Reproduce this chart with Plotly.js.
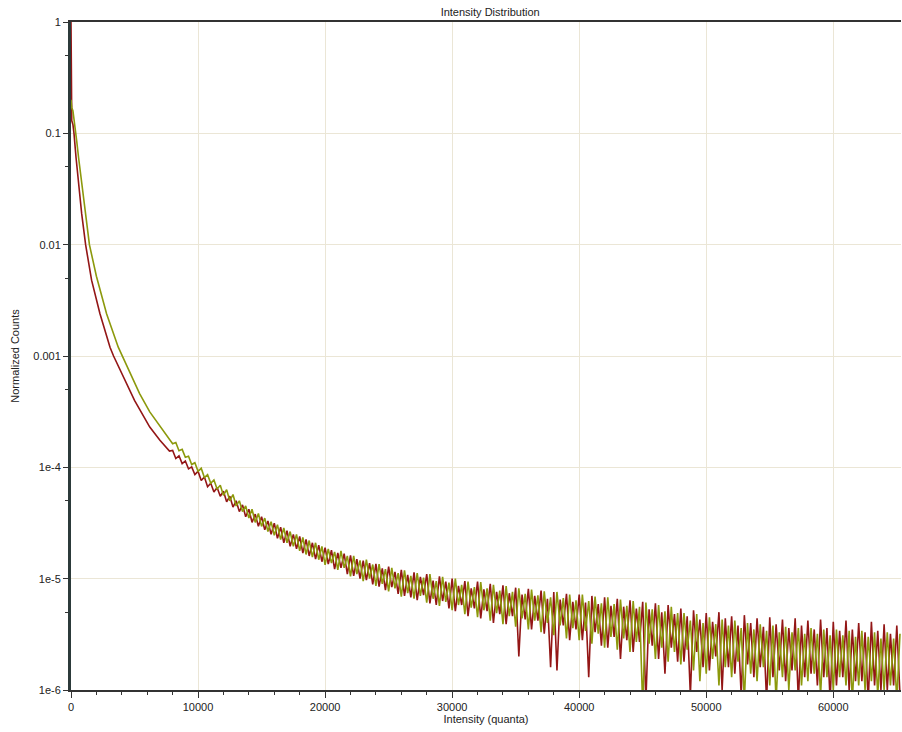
<!DOCTYPE html>
<html>
<head>
<meta charset="utf-8">
<script src="https://cdn.plot.ly/plotly-3.0.1.min.js"></script>
<style>html,body{margin:0;padding:0;background:#fff;}#chart{width:902px;height:732px;}</style>
</head>
<body>
<div id="chart"></div>
<script>
// ---- Data ----
// Smooth head of each distribution (explicit x, y pairs)
const redHeadX = [0, 60, 150, 235, 400, 575, 840, 1150, 1620, 2280, 3070, 3350, 3980, 5000, 6200, 7000, 7750];
const redHeadY = [1.0, 0.13, 0.12, 0.1, 0.06, 0.038, 0.019, 0.01, 0.0048, 0.0024, 0.0012, 0.001, 7e-4, 4e-4, 2.3e-4, 1.75e-4, 1.4e-4];

const oliveHeadX = [0, 60, 150, 300, 450, 600, 850, 1100, 1450, 2000, 2800, 3720, 4050, 4630, 5400, 6200, 7000, 7750];
const oliveHeadY = [0.2, 0.17, 0.16, 0.12, 0.085, 0.06, 0.035, 0.021, 0.01, 0.0052, 0.0024, 0.0012, 0.001, 7e-4, 4.6e-4, 3.15e-4, 2.35e-4, 1.82e-4];

// Noisy tail: histogram bins of width 250 starting at 8000
const tailBinStart = 8000;
const tailBinWidth = 250;

const redTail = [
  1.42e-4, 1.20e-4, 1.27e-4, 1.08e-4, 1.14e-4, 9.7e-5, 1.01e-4, 8.6e-5,
  9.2e-5, 7.6e-5, 8.2e-5, 6.7e-5, 7.2e-5, 6.0e-5, 6.6e-5, 5.5e-5,
  6.1e-5, 4.9e-5, 5.5e-5, 4.4e-5, 5.0e-5, 4.0e-5, 4.6e-5, 3.6e-5,
  4.2e-5, 3.2e-5, 3.8e-5, 2.95e-5, 3.6e-5, 2.75e-5, 3.3e-5, 2.5e-5,
  3.15e-5, 2.3e-5, 2.9e-5, 2.1e-5, 2.7e-5, 1.95e-5, 2.5e-5, 1.85e-5,
  2.4e-5, 1.7e-5, 2.25e-5, 1.6e-5, 2.1e-5, 1.5e-5, 2.0e-5, 1.42e-5,
  1.9e-5, 1.35e-5, 1.8e-5, 1.22e-5, 1.7e-5, 1.25e-5, 1.68e-5, 1.1e-5,
  1.62e-5, 1.06e-5, 1.5e-5, 1.0e-5, 1.45e-5, 9.7e-6, 1.38e-5, 8.9e-6,
  1.36e-5, 8.5e-6, 1.24e-5, 7.9e-6, 1.28e-5, 8.4e-6, 1.15e-5, 7.3e-6,
  1.2e-5, 7.0e-6, 1.08e-5, 6.8e-6, 1.14e-5, 6.4e-6, 1.04e-5, 7.1e-6,
  1.1e-5, 6.0e-6, 9.6e-6, 5.8e-6, 1.05e-5, 6.3e-6, 9.4e-6, 5.4e-6,
  1.0e-5, 5.1e-6, 8.6e-6, 5.8e-6, 9.5e-6, 4.6e-6, 8.2e-6, 5.4e-6,
  9.4e-6, 4.4e-6, 8.0e-6, 5.1e-6, 9.0e-6, 4.0e-6, 7.6e-6, 4.8e-6,
  8.7e-6, 3.9e-6, 7.4e-6, 4.6e-6, 8.3e-6, 2.0e-6, 7.2e-6, 4.3e-6,
  8.1e-6, 3.5e-6, 7.0e-6, 4.2e-6, 7.8e-6, 3.2e-6, 6.6e-6, 1.6e-6,
  7.6e-6, 1.5e-6, 6.5e-6, 3.8e-6, 7.3e-6, 2.8e-6, 6.2e-6, 3.5e-6,
  7.2e-6, 2.8e-6, 6.1e-6, 1.3e-6, 7.0e-6, 3.3e-6, 5.9e-6, 2.5e-6,
  6.8e-6, 2.4e-6, 5.7e-6, 3.0e-6, 6.6e-6, 1.9e-6, 5.6e-6, 2.8e-6,
  6.4e-6, 2.2e-6, 5.4e-6, 2.7e-6, 6.2e-6, 8e-7, 5.3e-6, 2.5e-6,
  6.0e-6, 1.9e-6, 5.0e-6, 1.4e-6, 5.8e-6, 2.4e-6, 4.8e-6, 1.8e-6,
  5.4e-6, 1.8e-6, 4.6e-6, 9e-7, 5.2e-6, 2.2e-6, 4.3e-6, 1.6e-6,
  4.9e-6, 1.5e-6, 4.1e-6, 2.0e-6, 5.0e-6, 1.0e-6, 4.4e-6, 1.6e-6,
  4.6e-6, 1.4e-6, 3.8e-6, 9e-7, 4.7e-6, 1.7e-6, 4.0e-6, 1.3e-6,
  4.4e-6, 1.6e-6, 3.7e-6, 8e-7, 4.5e-6, 1.3e-6, 3.9e-6, 1.5e-6,
  4.3e-6, 1.2e-6, 3.6e-6, 1.5e-6, 4.4e-6, 8e-7, 3.8e-6, 1.3e-6,
  4.2e-6, 1.4e-6, 3.5e-6, 1.1e-6, 4.3e-6, 1.3e-6, 3.6e-6, 8e-7,
  4.1e-6, 1.1e-6, 3.4e-6, 1.3e-6, 4.2e-6, 1.0e-6, 3.5e-6, 1.2e-6,
  4.0e-6, 1.2e-6, 3.3e-6, 8e-7, 4.1e-6, 1.1e-6, 3.4e-6, 1.0e-6,
  3.9e-6, 1.0e-6, 3.2e-6, 1.1e-6, 3.8e-6, 9e-7
];

const oliveTail = [
  1.63e-4, 1.67e-4, 1.41e-4, 1.45e-4, 1.23e-4, 1.26e-4, 1.06e-4, 1.10e-4,
  9.2e-5, 9.8e-5, 8.1e-5, 8.6e-5, 7.2e-5, 7.7e-5, 6.4e-5, 6.9e-5,
  5.6e-5, 6.3e-5, 5.0e-5, 5.7e-5, 4.5e-5, 5.0e-5, 4.0e-5, 4.5e-5,
  3.5e-5, 4.2e-5, 3.2e-5, 3.85e-5, 2.95e-5, 3.5e-5, 2.65e-5, 3.25e-5,
  2.45e-5, 3.05e-5, 2.25e-5, 2.85e-5, 2.1e-5, 2.65e-5, 1.95e-5, 2.5e-5,
  1.78e-5, 2.35e-5, 1.65e-5, 2.2e-5, 1.56e-5, 2.1e-5, 1.48e-5, 1.95e-5,
  1.33e-5, 1.85e-5, 1.38e-5, 1.74e-5, 1.2e-5, 1.78e-5, 1.25e-5, 1.6e-5,
  1.05e-5, 1.6e-5, 1.1e-5, 1.46e-5, 9.5e-6, 1.48e-5, 1.0e-5, 1.34e-5,
  8.6e-6, 1.35e-5, 9.0e-6, 1.22e-5, 7.7e-6, 1.25e-5, 8.2e-6, 1.12e-5,
  6.9e-6, 1.19e-5, 7.4e-6, 1.06e-5, 6.6e-6, 1.12e-5, 7.0e-6, 1.02e-5,
  6.1e-6, 1.1e-5, 6.6e-6, 9.5e-6, 5.7e-6, 1.04e-5, 6.2e-6, 9.2e-6,
  5.2e-6, 1.0e-5, 5.8e-6, 8.8e-6, 4.8e-6, 9.4e-6, 5.5e-6, 8.4e-6,
  4.5e-6, 9.3e-6, 5.2e-6, 8.2e-6, 4.2e-6, 8.8e-6, 4.9e-6, 7.8e-6,
  3.9e-6, 8.6e-6, 4.6e-6, 7.6e-6, 3.7e-6, 8.2e-6, 4.4e-6, 7.3e-6,
  3.5e-6, 8.0e-6, 4.2e-6, 7.1e-6, 3.3e-6, 7.7e-6, 4.0e-6, 6.8e-6,
  3.1e-6, 7.6e-6, 3.8e-6, 6.7e-6, 2.9e-6, 7.2e-6, 3.6e-6, 6.4e-6,
  2.8e-6, 7.2e-6, 3.4e-6, 6.3e-6, 2.6e-6, 6.9e-6, 3.2e-6, 6.0e-6,
  2.4e-6, 6.8e-6, 3.0e-6, 5.9e-6, 2.3e-6, 6.5e-6, 2.9e-6, 5.7e-6,
  2.2e-6, 6.3e-6, 2.7e-6, 5.6e-6, 7e-7, 6.1e-6, 2.6e-6, 5.3e-6,
  1.9e-6, 5.8e-6, 2.4e-6, 5.1e-6, 1.8e-6, 5.6e-6, 2.2e-6, 4.9e-6,
  1.7e-6, 4.9e-6, 2.3e-6, 4.2e-6, 1.5e-6, 4.8e-6, 1.2e-6, 4.0e-6,
  1.4e-6, 4.5e-6, 1.9e-6, 3.9e-6, 1.1e-6, 4.3e-6, 1.6e-6, 3.8e-6,
  1.3e-6, 4.2e-6, 1.8e-6, 3.6e-6, 8e-7, 4.0e-6, 1.4e-6, 3.5e-6,
  1.2e-6, 3.9e-6, 1.6e-6, 3.4e-6, 1.1e-6, 3.8e-6, 8e-7, 3.3e-6,
  1.3e-6, 3.7e-6, 1.0e-6, 3.3e-6, 1.5e-6, 3.6e-6, 1.1e-6, 3.2e-6,
  1.2e-6, 3.6e-6, 1.4e-6, 3.2e-6, 9e-7, 3.5e-6, 1.3e-6, 3.1e-6,
  1.0e-6, 3.5e-6, 1.3e-6, 3.1e-6, 1.1e-6, 3.4e-6, 8e-7, 3.0e-6,
  1.1e-6, 3.4e-6, 1.0e-6, 3.0e-6, 1.2e-6, 3.3e-6, 9e-7, 2.9e-6,
  1.0e-6, 3.3e-6, 1.1e-6, 2.9e-6, 8e-7, 3.2e-6
];

const xTickVals = [0, 10000, 20000, 30000, 40000, 50000, 60000];
const xTickText = ['0', '10000', '20000', '30000', '40000', '50000', '60000'];
const yTickVals = [1e-6, 1e-5, 1e-4, 1e-3, 1e-2, 1e-1, 1];
const yTickText = ['1e-6', '1e-5', '1e-4', '0.001', '0.01', '0.1', '1'];
const yMinorVals = [5e-6, 5e-5, 5e-4, 5e-3, 5e-2, 0.5];

// ---- Build traces ----
function tailX(values) {
  return values.map((_, i) => tailBinStart + i * tailBinWidth);
}
const redX = redHeadX.concat(tailX(redTail));
const redY = redHeadY.concat(redTail);
const oliveX = oliveHeadX.concat(tailX(oliveTail));
const oliveY = oliveHeadY.concat(oliveTail);

const FONT = 'Liberation Sans, Arial, sans-serif';

const traces = [
  {x: redX, y: redY, type: 'scatter', mode: 'lines', name: 'Red',
   line: {color: '#931616', width: 1.6}, hoverinfo: 'skip'},
  {x: oliveX, y: oliveY, type: 'scatter', mode: 'lines', name: 'Olive',
   line: {color: '#8c990c', width: 1.6}, hoverinfo: 'skip'}
];

const layout = {
  width: 902, height: 732,
  margin: {l: 71, r: 1, t: 22, b: 42},
  paper_bgcolor: '#ffffff', plot_bgcolor: '#ffffff',
  showlegend: false,
  font: {family: FONT, size: 11, color: '#222'},
  title: {text: 'Intensity Distribution', font: {family: FONT, size: 11, color: '#222'},
          xref: 'paper', x: 0.505, xanchor: 'center', yref: 'container', y: 0.984, yanchor: 'middle'},
  xaxis: {
    range: [0, 65330], tickmode: 'array', tickvals: xTickVals, ticktext: xTickText,
    ticks: 'outside', ticklen: 6, tickwidth: 1, tickcolor: '#333',
    showline: true, linecolor: '#333', linewidth: 2, mirror: true,
    showgrid: true, gridcolor: '#ebe6d6', gridwidth: 1, zeroline: false,
    tickfont: {family: FONT, size: 11, color: '#222'},
    minor: {dtick: 2000, tick0: 0, ticks: 'outside', ticklen: 3, tickcolor: '#333', showgrid: false},
    title: {text: 'Intensity (quanta)', font: {family: FONT, size: 11, color: '#222'}, standoff: 2}
  },
  yaxis: {
    type: 'log', range: [-6, 0], tickmode: 'array', tickvals: yTickVals, ticktext: yTickText,
    ticks: 'outside', ticklen: 5, tickwidth: 1, tickcolor: '#333',
    showline: true, linecolor: '#2c3a3a', linewidth: 3, mirror: false,
    showgrid: true, gridcolor: '#ebe6d6', gridwidth: 1, zeroline: false,
    tickfont: {family: FONT, size: 11, color: '#222'},
    minor: {tickmode: 'array', tickvals: yMinorVals, ticks: 'outside', ticklen: 3, tickcolor: '#333', showgrid: false},
    title: {text: 'Normalized Counts', font: {family: FONT, size: 11, color: '#222'}, standoff: 12}
  }
};

Plotly.newPlot('chart', traces, layout, {displayModeBar: false, staticPlot: true});
</script>
</body>
</html>
